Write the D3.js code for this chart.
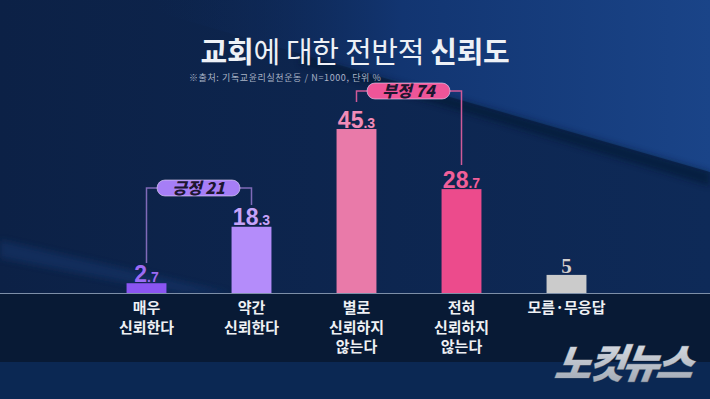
<!DOCTYPE html>
<html><head><meta charset="utf-8">
<script src="https://cdn.jsdelivr.net/npm/d3@7/dist/d3.min.js"></script>
<style>
html,body{margin:0;padding:0;background:#0c2248;overflow:hidden}
svg{display:block}
</style></head>
<body>
<svg id="c" width="710" height="399"></svg>
<script>
const categories = [["매우","신뢰한다"],["약간","신뢰한다"],["별로","신뢰하지","않는다"],["전혀","신뢰하지","않는다"],["모름·무응답"]];
const values = [2.7, 18.3, 45.3, 28.7, 5];
const barColors = ["#8b55f2", "#b48cfa", "#e97aa9", "#ec4b8c", "#cbcbcb"];
const labelColors = ["#9a6cf6", "#c4a4fb", "#f08cb8", "#f0609a", "#d0d0d0"];
const groupLabels = ["긍정", "부정"];
const groupTotals = [21, 74];
const groupFrom = [0, 2];
const groupTo = [1, 3];
const groupColors = ["#a67ef6", "#ef5598"];
const groupLineColors = ["#7f6ab8", "#cf5a98"];
const title = ["교회", "에 대한 전반적 ", "신뢰도"];
const subtitle = "※출처: 기독교윤리실천운동 / N=1000, 단위 %";

const svg = d3.select("#c");
const W = 710, H = 399, base = 293;
const defs = svg.append("defs");

// background
const g1 = defs.append("linearGradient").attr("id","bg").attr("x1",0).attr("y1",0).attr("x2",1).attr("y2",0);
g1.append("stop").attr("offset","0%").attr("stop-color","#0c2146");
g1.append("stop").attr("offset","100%").attr("stop-color","#0e2a58");
const g2 = defs.append("linearGradient").attr("id","tr").attr("x1",0).attr("y1",0).attr("x2",1).attr("y2",0);
g2.append("stop").attr("offset","0%").attr("stop-color","#0d2550").attr("stop-opacity",0);
g2.append("stop").attr("offset","45%").attr("stop-color","#123571");
g2.append("stop").attr("offset","100%").attr("stop-color","#1a4488");
const g3 = defs.append("linearGradient").attr("id","wm").attr("x1",0).attr("y1",0).attr("x2",0).attr("y2",1);
g3.append("stop").attr("offset","0%").attr("stop-color","#e4e8ee");
g3.append("stop").attr("offset","100%").attr("stop-color","#9aa2ae");
defs.append("filter").attr("id","blur").append("feGaussianBlur").attr("stdDeviation",3);

svg.append("rect").attr("width",W).attr("height",H).attr("fill","url(#bg)");
// lighter top-right region with diagonal edge
svg.append("polygon").attr("points","150,0 710,0 710,172 457,99 150,10").attr("fill","url(#tr)");
svg.append("polygon").attr("points","300,55 457,99 710,172 710,186 457,110 300,64")
  .attr("fill","#06152f").attr("opacity",0.55).attr("filter","url(#blur)");
// faint band bottom-left
svg.append("polygon").attr("points","0,240 0,258 180,293 230,293").attr("fill","#123569").attr("opacity",0.6).attr("filter","url(#blur)");
// bottom strips
svg.append("rect").attr("x",0).attr("y",base).attr("width",W).attr("height",69).attr("fill","#081a35");
svg.append("rect").attr("x",0).attr("y",362).attr("width",W).attr("height",H-362).attr("fill","#0b2853");

// scales
const x = d3.scaleBand().domain(d3.range(values.length)).range([94, 619]).paddingInner(0.62).paddingOuter(0.31);
const y = d3.scaleLinear().domain([0, 50]).range([base, base - 181]);
const cx = i => x(i) + x.bandwidth()/2;

// bars
svg.selectAll("rect.bar").data(values).join("rect").attr("class","bar")
  .attr("x",(d,i)=>x(i)).attr("width",x.bandwidth())
  .attr("y",d=>y(d)).attr("height",d=>base-y(d))
  .attr("fill",(d,i)=>barColors[i]);

// baseline
svg.append("line").attr("x1",0).attr("x2",W).attr("y1",base+0.5).attr("y2",base+0.5).attr("stroke","#7d8fa8").attr("stroke-width",1.2);

// value labels
values.forEach((v,i)=>{
  const t = svg.append("text").attr("x",cx(i)).attr("y",y(v)-1.5).attr("text-anchor","middle")
    .attr("fill",labelColors[i]).attr("stroke","#2a1a40").attr("stroke-width",0.6)
    .attr("paint-order","stroke");
  const s = String(v).split(".");
  if (s.length > 1) {
    t.attr("font-family","'Liberation Sans Narrow','Liberation Sans',sans-serif").attr("font-weight","bold");
    t.append("tspan").attr("font-size",23).text(s[0]);
    t.append("tspan").attr("font-size",14).text("." + s[1]);
  } else {
    t.attr("font-family","'Liberation Serif',serif").attr("font-weight","bold").attr("font-size",21).text(s[0]);
  }
});

// category labels
categories.forEach((lines,i)=>{
  const t = svg.append("text").attr("x",cx(i)).attr("y",313).attr("text-anchor","middle")
    .attr("font-family","'Noto Sans CJK KR',sans-serif").attr("font-weight","bold").attr("font-size",15)
    .attr("fill","#eef0f4");
  lines.forEach((l,k)=>t.append("tspan").attr("x",cx(i)).attr("dy",k===0?0:19.5).text(l));
});

// group brackets
const pillY = [188, 91], pillW = 83, pillH = 16;
const pillCX = [198.5, 408.5];
const leftEnd = [263, 102], rightEnd = [205, 165];
groupLabels.forEach((g,k)=>{
  const a = cx(groupFrom[k]), b = cx(groupTo[k]);
  const py = pillY[k], pc = pillCX[k];
  const lc = groupLineColors[k];
  svg.append("path").attr("fill","none").attr("stroke",lc).attr("stroke-width",1.5)
    .attr("d",`M${a},${leftEnd[k]}V${py}H${pc-pillW/2}M${pc+pillW/2},${py}H${b}V${rightEnd[k]}`);
  svg.append("rect").attr("x",pc-pillW/2).attr("y",py-pillH/2).attr("width",pillW).attr("height",pillH)
    .attr("rx",8).attr("fill",groupColors[k]).attr("stroke","#e8d8f8").attr("stroke-width",0.6);
  svg.append("text").attr("x",pc).attr("y",py+6).attr("text-anchor","middle")
    .attr("font-family","'Noto Sans CJK KR',sans-serif").attr("font-weight","900").attr("font-style","italic")
    .attr("font-size",16).attr("fill","#1c1630")
    .text(g + " " + groupTotals[k]);
});

// title
const tt = svg.append("text").attr("x",355).attr("y",63).attr("text-anchor","middle")
  .attr("font-family","'Noto Sans CJK KR',sans-serif").attr("font-size",29).attr("fill","#eef1f6")
  .attr("letter-spacing",-0.3);
tt.append("tspan").attr("font-weight","bold").text(title[0]);
tt.append("tspan").attr("font-weight","normal").text(title[1]);
tt.append("tspan").attr("font-weight","bold").text(title[2]);
svg.append("text").attr("x",189).attr("y",80.5).attr("font-family","'Noto Sans CJK KR',sans-serif")
  .attr("font-size",9).attr("fill","#aab4c6").attr("letter-spacing",0.6).text(subtitle);

// watermark
svg.append("text").attr("x",624).attr("y",378).attr("text-anchor","middle")
  .attr("font-family","'Noto Sans CJK KR',sans-serif").attr("font-weight","900").attr("font-style","italic")
  .attr("font-size",40).attr("letter-spacing",-3).attr("fill","url(#wm)")
  .attr("stroke","#5a6270").attr("stroke-width",0.8).attr("paint-order","stroke")
  .attr("transform","skewX(-8) translate(50,0)")
  .text("노컷뉴스");
</script>
</body></html>
